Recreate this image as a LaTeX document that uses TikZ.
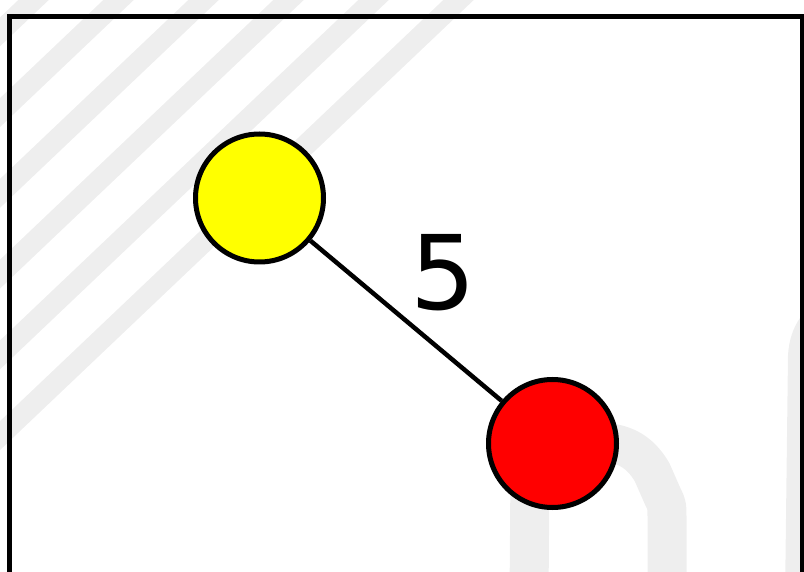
\documentclass[tikz,border=0pt]{standalone}
\usepackage{fontspec}
\setmainfont{DejaVu Sans}
\definecolor{faint}{HTML}{EEEEEE}
\definecolor{ballyellow}{RGB}{255,255,0}
\definecolor{ballred}{RGB}{255,0,0}
\tikzset{
  stripe/.style={draw=faint, line width=21pt},
  deco/.style={draw=faint, line width=39pt, line join=round},
  frameline/.style={draw=black, line width=5.5pt},
  ball/.style={circle, draw=black, line width=5pt, minimum size=128pt, inner sep=0pt},
  edgeline/.style={draw=black, line width=4.5pt},
  weight/.style={font=\fontsize{103}{103}\selectfont, inner sep=0pt}
}
\begin{document}
\begin{tikzpicture}[x=1pt, y=-1pt]
  \useasboundingbox (0,0) rectangle (804,572);
  \begin{scope}
    \clip (0,0) rectangle (804,572);
    % background hatch bands
    \foreach \xo in {-77,8,93,178,263,348} {
      \draw[stripe] (\xo-500,{105+0.95*500}) -- (\xo+200,{105-0.95*200});
    }
    % background arch
    \draw[deco] (529,600) -- (530,470) .. controls (531,445) and (560,440) .. (600,442)
      .. controls (625,443) and (640,452) .. (652,472) -- (663,497)
      .. controls (667,505) .. (667,520) -- (667,600);
    \fill[faint] (785,600) -- (788,355) .. controls (789,340) and (793,328) .. (800,318)
      -- (812,300) -- (812,600) -- cycle;
    % frame
    \draw[frameline] (9.5,16.5) rectangle (802.5,574.3);
  \end{scope}
  \node[ball, fill=ballyellow] (a) at (259.5,198) {};
  \node[ball, fill=ballred] (b) at (552.5,443.5) {};
  \draw[edgeline] (a) -- (b);
  \node[weight] (w) at (443,273) {5};
\end{tikzpicture}
\end{document}
